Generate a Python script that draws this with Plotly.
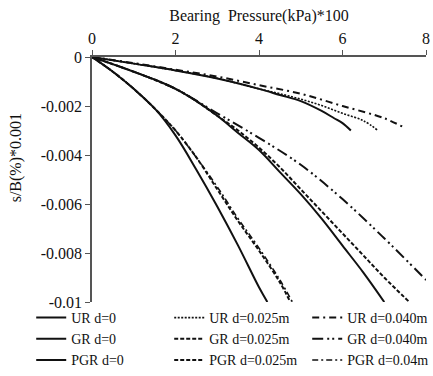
import plotly.graph_objects as go

# ---- data (x: bearing pressure (kPa)*100, y: s/B(%)*0.001) ----
ur0_x = [0, 1, 2, 3, 4, 4.5, 5, 5.5, 5.8, 6, 6.2]
ur0_y = [0, -0.00027, -0.00055, -0.00088, -0.0013, -0.00155, -0.0018, -0.0022, -0.0025, -0.0027, -0.0030]

ur25_x = [0, 1, 2, 3, 4, 4.5, 5, 5.5, 6, 6.5, 6.85]
ur25_y = [0, -0.00027, -0.00055, -0.00087, -0.0013, -0.0015, -0.00172, -0.00198, -0.0023, -0.0026, -0.0030]

ur40_x = [0, 1, 2, 3, 4, 5, 6, 7, 7.5]
ur40_y = [0, -0.00025, -0.00052, -0.0008, -0.00115, -0.0015, -0.0020, -0.0025, -0.0029]

gr0_x = [0, 1, 1.5, 2, 2.5, 3, 3.5, 4, 4.5, 5, 5.5, 6, 6.5, 7]
gr0_y = [0, -0.0006, -0.00092, -0.0013, -0.0018, -0.0024, -0.0031, -0.0038, -0.0047,
         -0.0056, -0.0066, -0.0077, -0.0088, -0.0100]

gr25_x = [0, 1, 2, 2.5, 3, 3.5, 4, 4.5, 5, 5.5, 6, 6.5, 7, 7.6]
gr25_y = [0, -0.0006, -0.0013, -0.0018, -0.0024, -0.0030, -0.0037, -0.0045, -0.0054,
          -0.0063, -0.0072, -0.0081, -0.0090, -0.0100]

gr40_x = [0, 1, 2, 3, 4, 5, 6, 7, 8]
gr40_y = [0, -0.0006, -0.0013, -0.0023, -0.0033, -0.0044, -0.0058, -0.0074, -0.0091]

pgr0_x = [0, 0.5, 1, 1.5, 2, 2.5, 3, 3.5, 4, 4.2]
pgr0_y = [0, -0.0006, -0.0013, -0.0021, -0.0032, -0.0046, -0.0061, -0.0077, -0.0094, -0.0100]

pgr25_x = [0, 0.5, 1, 1.5, 2, 2.5, 3, 3.5, 4, 4.5, 4.75]
pgr25_y = [0, -0.0006, -0.0013, -0.0021, -0.0030, -0.0041, -0.0054, -0.0067, -0.0079, -0.0092, -0.0100]

pgr40_x = [0, 0.5, 1, 1.5, 2, 2.5, 3, 3.5, 4, 4.5, 4.8]
pgr40_y = [0, -0.0006, -0.0013, -0.0021, -0.0030, -0.0041, -0.0053, -0.0066, -0.0078, -0.0091, -0.0100]

x_ticks = [0, 2, 4, 6, 8]
y_ticks = [0, -0.002, -0.004, -0.006, -0.008, -0.01]
y_ticktext = ["0", "-0.002", "-0.004", "-0.006", "-0.008", "-0.01"]

series = [
    ("UR d=0", ur0_x, ur0_y, "solid", 2),
    ("UR d=0.025m", ur25_x, ur25_y, "2px,1.5px", 1.6),
    ("UR d=0.040m", ur40_x, ur40_y, "7px,4px,2px,4px", 2),
    ("GR d=0", gr0_x, gr0_y, "solid", 2),
    ("GR d=0.025m", gr25_x, gr25_y, "4px,2px", 2),
    ("GR d=0.040m", gr40_x, gr40_y, "11px,4px,2px,3px,2px,4px", 2),
    ("PGR d=0", pgr0_x, pgr0_y, "solid", 2),
    ("PGR d=0.025m", pgr25_x, pgr25_y, "4px,2px", 2),
    ("PGR d=0.04m", pgr40_x, pgr40_y, "6px,3px,2px,3px", 1.6),
]

FONT = "Liberation Serif"
fig = go.Figure()
for name, xs, ys, dash, w in series:
    fig.add_trace(go.Scatter(x=xs, y=ys, mode="lines", name=name,
                             line=dict(color="#111111", width=w, dash=dash, shape="spline")))

fig.update_layout(
    width=433, height=376,
    margin=dict(l=92, r=7, t=57, b=74, autoexpand=False),
    plot_bgcolor="white", paper_bgcolor="white",
    font=dict(family=FONT, size=16, color="#111111"),
    showlegend=True,
    legend=dict(orientation="h", x=-0.182, xanchor="left", y=0.0, yanchor="top",
                entrywidth=93, tracegroupgap=0, traceorder="normal",
                font=dict(family=FONT, size=14, color="#111111"),
                itemwidth=30, bgcolor="rgba(0,0,0,0)"),
    xaxis=dict(side="top", range=[0, 8], tickvals=x_ticks, ticks="outside", ticklen=5,
               tickcolor="#555", showline=True, linecolor="#555", linewidth=1.5,
               showgrid=False, zeroline=False,
               tickfont=dict(family=FONT, size=16),
               title=dict(text="Bearing  Pressure(kPa)*100", font=dict(family=FONT, size=16), standoff=4)),
    yaxis=dict(range=[-0.01, 0], tickvals=y_ticks, ticktext=y_ticktext, ticks="outside",
               ticklen=5, tickcolor="#555", showline=True, linecolor="#555", linewidth=1.5,
               showgrid=False, zeroline=False, tickfont=dict(family=FONT, size=16)),
    annotations=[dict(text="s/B(%)*0.001", xref="paper", yref="y", x=-0.225, y=-0.0041,
                      textangle=-90, showarrow=False, xanchor="center", yanchor="middle",
                      font=dict(family=FONT, size=16, color="#111111"))],
)
fig.write_html("out.html")
